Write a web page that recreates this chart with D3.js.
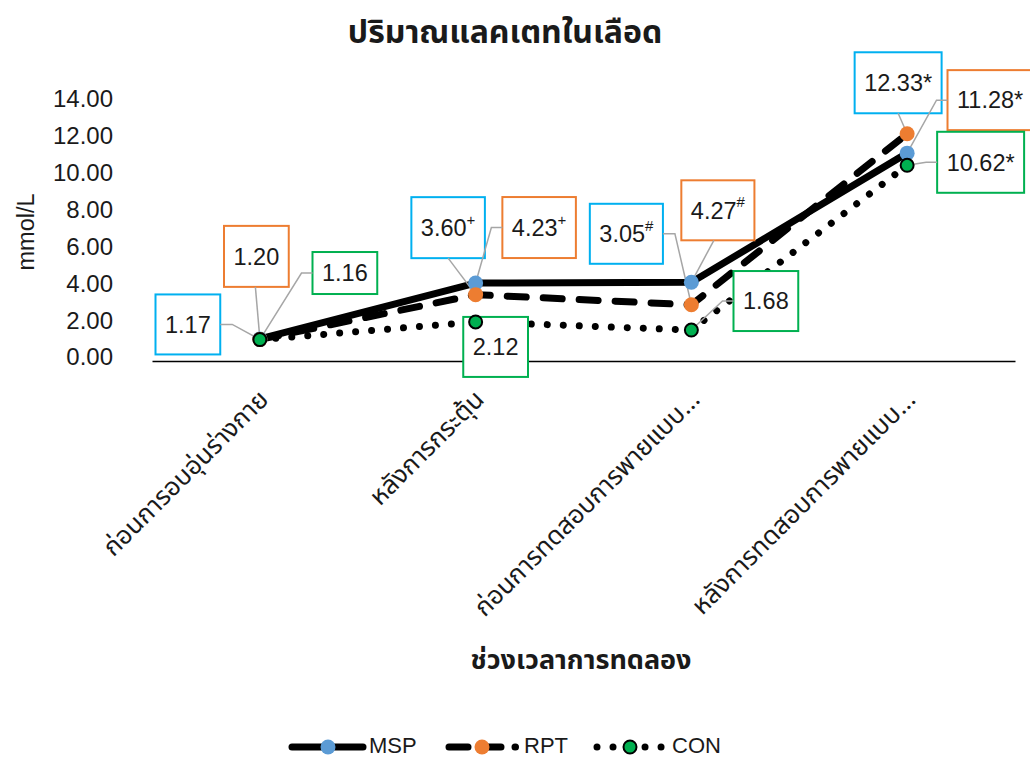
<!DOCTYPE html>
<html>
<head>
<meta charset="utf-8">
<script src="https://cdn.jsdelivr.net/npm/d3@7/dist/d3.min.js"></script>
<style>
  html, body { margin: 0; padding: 0; background: #fff; }
  svg { display: block; }
  text { font-family: "Liberation Sans", Arial, sans-serif; fill: #1a1a1a; }
  .thai { font-family: Tahoma, "Noto Sans Thai", "Noto Sans", "DejaVu Sans", sans-serif; }
</style>
</head>
<body>
<svg id="chart" width="1030" height="758"></svg>
<script>
// Blood lactate (mmol/L) across the four measurement phases
const categories = [
  "ก่อนการอบอุ่นร่างกาย",
  "หลังการกระตุ้น",
  "ก่อนการทดสอบการพายแบบ...",
  "หลังการทดสอบการพายแบบ..."
];
const seriesNames = ["MSP", "RPT", "CON"];
const mspValues = [1.20, 4.23, 4.27, 11.28];
const rptValues = [1.17, 3.60, 3.05, 12.33];
const conValues = [1.16, 2.12, 1.68, 10.62];
// significance marks appended to each data label
const mspMarks = ["", "+", "#", "*"];
const rptMarks = ["", "+", "#", "*"];
const conMarks = ["", "", "", "*"];
const yTicks = [0, 2, 4, 6, 8, 10, 12, 14];

const svg = d3.select("#chart");
const plot = { left: 152, right: 1015, top: 103, bottom: 361 };

const x = d3.scaleBand().domain(categories).range([plot.left, plot.right]).padding(0);
const y = d3.scaleLinear().domain([0, 14]).range([plot.bottom, plot.top]);
const cx = c => x(c) + x.bandwidth() / 2;

// per-series styling
const styles = {
  MSP: { marker: "#5B9BD5", markerStroke: "none", dash: null, legendDash: null, box: "#ED7D31" },
  RPT: { marker: "#ED7D31", markerStroke: "none", dash: "19 17", legendDash: "19 14 19 14", box: "#00B0F0" },
  CON: { marker: "#00B050", markerStroke: "#000", dash: "0.01 16", legendDash: "0.01 16", box: "#00B050" }
};

const series = [
  { name: "MSP", values: mspValues, marks: mspMarks },
  { name: "RPT", values: rptValues, marks: rptMarks },
  { name: "CON", values: conValues, marks: conMarks }
];

// label box placement relative to its point: [dx, dy, height, leader side, leader x-offset]
const labelLayout = {
  MSP: [[-3.5, -82.5, 61, "bottom", -1], [63.5, -55.5, 61, "left", 0], [26.5, -72, 60, "bottom", -4], [83, -53, 60, "left", 0]],
  RPT: [[-72, -15, 60, "right", 0], [-27.5, -67, 61, "bottom", 0], [-65, -71, 60, "right", 0], [-9, -51, 61, "bottom", 0]],
  CON: [[85, -66.6, 42, "left", 0], [20, 25, 60, "none", 0], [74.5, -29, 60, "left", 0], [73.5, -3, 61, "left", 0]]
};

// Title
svg.append("text").attr("class", "thai")
  .attr("x", 505).attr("y", 43)
  .attr("text-anchor", "middle")
  .attr("font-size", 32).attr("font-weight", "bold")
  .text("ปริมาณแลคเตทในเลือด");

// Y tick labels (no visible y axis line)
svg.append("g").selectAll("text").data(yTicks).join("text")
  .attr("x", 113).attr("y", d => y(d) - 4)
  .attr("dy", "0.35em")
  .attr("text-anchor", "end")
  .attr("font-size", 24)
  .text(d => d3.format(".2f")(d));

// Y axis title
svg.append("text")
  .attr("transform", "translate(26,232) rotate(-90)")
  .attr("text-anchor", "middle").attr("dy", "0.35em")
  .attr("font-size", 23.5)
  .text("mmol/L");

// X axis line
svg.append("g")
  .attr("transform", `translate(0,${plot.bottom})`)
  .call(d3.axisBottom(x).tickSize(0).tickFormat(""))
  .call(g => g.select(".domain").attr("stroke", "#000").attr("stroke-width", 1.6));

// X category labels, rotated
svg.append("g").selectAll("text").data(categories).join("text")
  .attr("class", "thai")
  .attr("transform", c => `translate(${cx(c) + 10},${plot.bottom + 40}) rotate(-45)`)
  .attr("text-anchor", "end")
  .attr("font-size", 25.5)
  .text(c => c);

// X axis title
svg.append("text").attr("class", "thai")
  .attr("x", 581).attr("y", 669)
  .attr("text-anchor", "middle")
  .attr("font-size", 27).attr("font-weight", "bold")
  .text("ช่วงเวลาการทดลอง");

const line = d3.line().x((d, i) => cx(categories[i])).y(d => y(d));

function styleLine(sel, dash) {
  sel.attr("fill", "none").attr("stroke", "#000").attr("stroke-width", 7)
    .attr("stroke-linecap", "round").attr("stroke-linejoin", "round");
  if (dash) sel.attr("stroke-dasharray", dash);
  return sel;
}

// Lines
const gLines = svg.append("g");
series.forEach(s => {
  styleLine(gLines.append("path").attr("d", line(s.values)), styles[s.name].dash);
});

// Leader lines and label boxes
const gLabels = svg.append("g");
const gLeaders = svg.append("g");
series.forEach(s => {
  s.values.forEach((v, i) => {
    const px = cx(categories[i]), py = y(v);
    const [dx, dy, h, side, lx] = labelLayout[s.name][i];
    const bx = px + dx, by = py + dy;
    const g = gLabels.append("g");
    const t = g.append("text")
      .attr("x", bx).attr("y", by).attr("dy", "0.35em")
      .attr("text-anchor", "middle").attr("font-size", 23.5);
    t.append("tspan").text(d3.format(".2f")(v));
    const mark = s.marks[i];
    if (mark === "*") t.append("tspan").text("*");
    else if (mark) t.append("tspan").attr("font-size", 15).attr("dy", "-0.75em").text(mark);
    const tw = t.node().getComputedTextLength();
    const w = tw + 19;
    const x0 = bx - w / 2, x1 = bx + w / 2, y0 = by - h / 2, y1 = by + h / 2;
    g.insert("rect", "text")
      .attr("x", x0).attr("y", y0).attr("width", w).attr("height", h)
      .attr("fill", "#fff").attr("stroke", styles[s.name].box).attr("stroke-width", 2);

    let pts = null;
    if (side === "right") pts = [[x1, by], [x1 + 12, by], [px, py]];
    else if (side === "left") pts = [[x0, by], [x0 - 11, by], [px, py]];
    else if (side === "bottom") pts = [[bx + lx, y1], [px, py]];
    if (pts) {
      gLeaders.append("path")
        .attr("d", d3.line()(pts))
        .attr("fill", "none").attr("stroke", "#A6A6A6").attr("stroke-width", 1.5);
    }
  });
});

// Markers
const gMarkers = svg.append("g");
series.forEach(s => {
  gMarkers.selectAll(null).data(s.values).join("circle")
    .attr("cx", (d, i) => cx(categories[i])).attr("cy", d => y(d))
    .attr("r", s.name === "CON" ? 6.5 : 7.5)
    .attr("fill", styles[s.name].marker)
    .attr("stroke", styles[s.name].markerStroke)
    .attr("stroke-width", s.name === "CON" ? 2 : 0);
});

// Legend
const legendItems = [
  { name: "MSP", x0: 292, x1: 363, mx: 328, tx: 369 },
  { name: "RPT", x0: 449, x1: 515.5, mx: 482, tx: 524 },
  { name: "CON", x0: 597, x1: 665, mx: 630, tx: 672 }
];
const ly = 747;
const gLegend = svg.append("g");
legendItems.forEach(it => {
  styleLine(gLegend.append("path").attr("d", d3.line()([[it.x0, ly], [it.x1, ly]])), styles[it.name].legendDash);
  gLegend.append("circle").attr("cx", it.mx).attr("cy", ly)
    .attr("r", it.name === "CON" ? 6.5 : 7.5)
    .attr("fill", styles[it.name].marker)
    .attr("stroke", styles[it.name].markerStroke)
    .attr("stroke-width", it.name === "CON" ? 2 : 0);
  gLegend.append("text").attr("x", it.tx).attr("y", 753)
    .attr("font-size", 22).text(it.name);
});
</script>
</body>
</html>
